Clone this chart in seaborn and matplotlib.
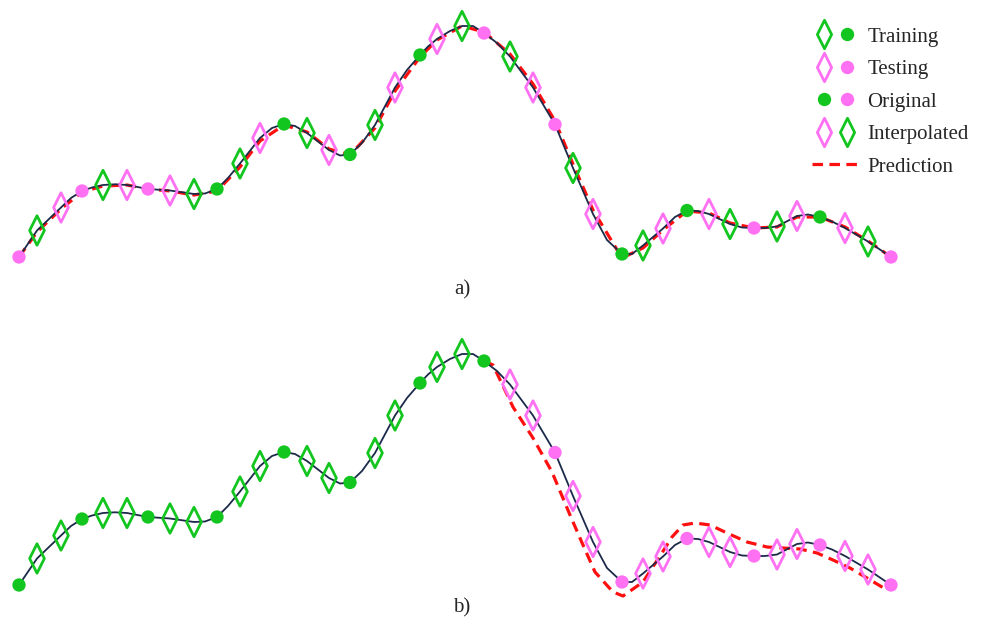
import matplotlib
matplotlib.use("Agg")
import matplotlib.pyplot as plt
from matplotlib.path import Path
from matplotlib.markers import MarkerStyle
from matplotlib.lines import Line2D
from matplotlib.legend_handler import HandlerTuple
import pandas as pd
import seaborn as sns

# ---------------- data ----------------
# samples: original points every third entry, interpolated samples in between
t = [0.0, 1.8, 4.2, 6.3, 8.4, 10.8, 12.9, 15.1, 17.5, 19.8,
     22.1, 24.1, 26.5, 28.8, 31.0, 33.1, 35.6, 37.6, 40.1, 41.8,
     44.3, 46.5, 49.1, 51.4, 53.6, 55.4, 57.4, 60.3, 62.4, 64.4,
     66.8, 69.0, 71.1, 73.5, 75.8, 77.8, 80.1, 82.6, 84.9, 87.2]
signal = [0.0, 2.65, 4.95, 6.6, 7.2, 7.2, 6.8, 6.65, 6.3, 6.8,
          9.35, 11.9, 13.3, 12.4, 10.7, 10.25, 13.2, 16.95, 20.2, 21.8,
          23.1, 22.4, 20.05, 16.95, 13.25, 8.9, 4.3, 0.3, 1.15, 2.85,
          4.65, 4.3, 3.3, 2.9, 3.05, 4.1, 4.0, 2.9, 1.55, 0.0]
kind_code = "OII" * 13 + "O"          # O = original, I = interpolated
split_a_code = "ERE ERE EER RRE RRE RRE RER ERE ERE RRE RER ERE RER E"   # R = training, E = testing
split_b_code = "R" * 22 + "E" * 18

# underlying smooth curve, read at a denser set of positions
curve_t = [0.0, 1.8, 4.2, 5.2, 6.3, 7.3, 8.4, 9.6, 10.8, 12.9,
           15.1, 17.5, 18.6, 19.8, 20.9, 22.1, 24.1, 25.3, 26.5, 27.6,
           28.8, 31.0, 32.1, 33.1, 34.3, 35.6, 37.6, 38.8, 40.1, 40.9,
           41.8, 43.1, 44.3, 45.4, 46.5, 47.8, 49.1, 51.4, 53.6, 55.4,
           57.4, 58.8, 60.3, 61.3, 62.4, 64.4, 65.6, 66.8, 67.9, 69.0,
           71.1, 72.3, 73.5, 74.6, 75.8, 77.8, 78.9, 80.1, 81.3, 82.6,
           84.9, 87.2]
curve_y = [0.0, 2.65, 4.95, 5.9, 6.6, 6.95, 7.2, 7.27, 7.2, 6.8,
           6.65, 6.3, 6.35, 6.8, 7.9, 9.35, 11.9, 12.9, 13.3, 13.1,
           12.4, 10.7, 10.15, 10.25, 11.4, 13.2, 16.95, 18.7, 20.2, 21.05,
           21.8, 22.6, 23.1, 23.1, 22.4, 21.4, 20.05, 16.95, 13.25, 8.9,
           4.3, 1.7, 0.3, 0.3, 1.15, 2.85, 4.0, 4.65, 4.6, 4.3,
           3.3, 2.95, 2.9, 2.9, 3.05, 4.1, 4.25, 4.0, 3.55, 2.9,
           1.55, 0.0]

# prediction, panel a (random split)
pred_a = [0.0, 2.5, 4.8, 6.5, 7.1, 7.2, 6.8, 6.6, 6.2, 6.6,
          9.0, 11.6, 13.2, 12.5, 10.8, 10.2, 12.9, 16.6, 20.0, 21.7,
          23.1, 22.5, 20.3, 17.3, 13.6, 9.3, 4.7, -0.1, 0.9, 2.7,
          4.6, 4.4, 3.4, 2.9, 3.0, 4.0, 4.0, 3.0, 1.6, 0.0]
# prediction, panel b (chronological split)
pred_b_t = [46.5, 47.4, 49.4, 51.4, 53.3, 55.1, 56.4, 57.6, 59.4, 60.4,
            62.4, 64.1, 65.3, 66.4, 67.6, 69.1, 70.8, 72.8, 74.8, 76.4,
            78.1, 79.8, 81.4, 83.1, 84.8, 86.8]
pred_b = [22.4, 22.0, 17.8, 14.7, 11.3, 7.0, 4.0, 1.3, -0.7, -1.1,
          0.3, 2.9, 4.8, 6.0, 6.2, 6.0, 5.2, 4.3, 3.8, 3.7,
          3.6, 3.2, 2.5, 1.7, 0.7, -0.5]

labels = ["Training", "Testing", "Original", "Interpolated", "Prediction"]

# ---------------- style ----------------
GREEN = "#13c61f"
PINK = "#ff70f3"
LINE = "#1c2a4a"
RED = "#ff1010"

sns.set_style("white")
plt.rcParams["font.family"] = ["Liberation Serif", "DejaVu Serif"]

diamond = Path([(0, 1), (0.5, 0), (0, -1), (-0.5, 0), (0, 1)],
               [Path.MOVETO, Path.LINETO, Path.LINETO, Path.LINETO, Path.CLOSEPOLY])
dmark = MarkerStyle(diamond, joinstyle="miter")

kinds = ["Original" if c == "O" else "Interpolated" for c in kind_code]
split_a = ["Training" if c == "R" else "Testing" for c in split_a_code.replace(" ", "")]
split_b = ["Training" if c == "R" else "Testing" for c in split_b_code]

df = pd.DataFrame({"t": t, "y": signal, "kind": kinds,
                   "split_a": split_a, "split_b": split_b, "pred_a": pred_a})
dfc = pd.DataFrame({"t": curve_t, "y": curve_y})
dfp_b = pd.DataFrame({"t": pred_b_t, "y": pred_b})

W, H = 981, 619
fig = plt.figure(figsize=(W / 100, H / 100), dpi=100)
ax_a = fig.add_axes([0, 1 - 310 / H, 1, 310 / H])
ax_b = fig.add_axes([0, 0, 1, 309 / H])

colors = {"Training": GREEN, "Testing": PINK}


def draw(ax, split_col, pred_df, pred_col):
    sns.lineplot(data=pred_df, x="t", y=pred_col, ax=ax, color=RED, lw=2.3,
                 linestyle=(0, (3.3, 2.0)), sort=False, estimator=None, zorder=1)
    sns.lineplot(data=dfc, x="t", y="y", ax=ax, color=LINE, lw=1.3,
                 sort=False, estimator=None, zorder=2)
    for grp, col in colors.items():
        sub = df[(df[split_col] == grp) & (df["kind"] == "Interpolated")]
        if len(sub):
            sns.scatterplot(data=sub, x="t", y="y", ax=ax, marker=dmark, s=450,
                            facecolors="none", edgecolor=col, linewidth=2.0,
                            zorder=3, clip_on=False)
        sub = df[(df[split_col] == grp) & (df["kind"] == "Original")]
        if len(sub):
            sns.scatterplot(data=sub, x="t", y="y", ax=ax, marker="o", s=92,
                            color=col, edgecolor="none", linewidth=0,
                            zorder=4, clip_on=False)
    ax.set_xlim(-1.9, 96.2)
    ax.set_axis_off()


draw(ax_a, "split_a", df, "pred_a")
ax_a.set_ylim(-5.3, 25.7)
draw(ax_b, "split_b", dfp_b, "y")
ax_b.set_ylim(-3.4, 27.5)

fig.text(462 / W, 1 - 290 / H, "a)", ha="center", va="center", fontsize=15)
fig.text(462 / W, 1 - 608 / H, "b)", ha="center", va="center", fontsize=15)

# ---------------- legend ----------------
def dia(c):
    return Line2D([], [], marker=dmark, markersize=20.5, markerfacecolor="none",
                  markeredgecolor=c, markeredgewidth=2.0, linestyle="none")


def dot(c):
    return Line2D([], [], marker="o", markersize=9.6, markerfacecolor=c,
                  markeredgecolor="none", linestyle="none")


handles = [(dia(GREEN), dot(GREEN)),
           (dia(PINK), dot(PINK)),
           (dot(GREEN), dot(PINK)),
           (dia(PINK), dia(GREEN)),
           Line2D([], [], color=RED, lw=2.3, linestyle=(0, (3.3, 2.0)))]
fig.legend(handles, labels, loc="upper left",
           bbox_to_anchor=(812 / W, 1 - 27 / H), frameon=False,
           borderpad=0, borderaxespad=0, handlelength=2.25, handletextpad=0.4,
           labelspacing=0.62, fontsize=15,
           handler_map={tuple: HandlerTuple(ndivide=None, pad=0)})

fig.savefig("out.png", dpi=100)
